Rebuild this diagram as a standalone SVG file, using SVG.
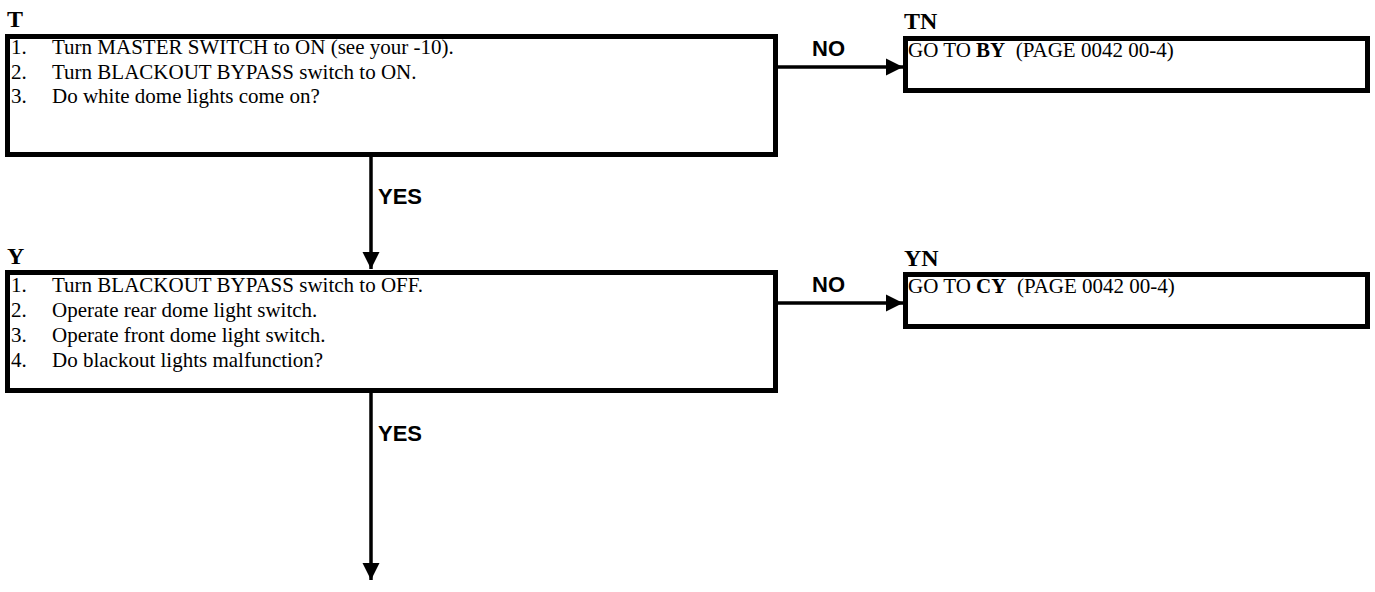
<svg xmlns="http://www.w3.org/2000/svg" width="1375" height="592" viewBox="0 0 1375 592">
<style>
.box{fill:#fff;stroke:#000;stroke-width:5}
.t{font-family:"Liberation Serif","Times New Roman",serif;font-size:21px;fill:#000;white-space:pre}
.lbl{font-family:"Liberation Serif","Times New Roman",serif;font-size:24px;font-weight:bold;fill:#000}
.cl{font-family:"Liberation Sans",Arial,sans-serif;font-size:22px;font-weight:bold;fill:#000}
.ln{stroke:#000;stroke-width:3.5;fill:none}
</style>
<defs>
<marker id="ah" viewBox="0 0 10 10" refX="10" refY="5" markerWidth="5" markerHeight="5" orient="auto" markerUnits="strokeWidth">
<path d="M0,0 L10,5 L0,10 Z" fill="#000"/>
</marker>
</defs>
<g id="connectors">
<line class="ln" x1="371" y1="155" x2="371" y2="269" marker-end="url(#ah)"/>
<text class="cl" x="378" y="204">YES</text>
<line class="ln" x1="778" y1="67" x2="903" y2="67" marker-end="url(#ah)"/>
<text class="cl" x="812" y="56">NO</text>
<line class="ln" x1="371" y1="393" x2="371" y2="580" marker-end="url(#ah)"/>
<text class="cl" x="378" y="441">YES</text>
<line class="ln" x1="778" y1="303" x2="903" y2="303" marker-end="url(#ah)"/>
<text class="cl" x="812" y="292">NO</text>
</g>
<g id="T">
<text class="lbl" x="7" y="27">T</text>
<rect class="box" x="7.5" y="36.5" width="768" height="118"/>
<text class="t" x="11" y="54">1.</text><text class="t" x="52" y="54">Turn MASTER SWITCH to ON (see your -10).</text>
<text class="t" x="11" y="78.5">2.</text><text class="t" x="52" y="78.5">Turn BLACKOUT BYPASS switch to ON.</text>
<text class="t" x="11" y="103">3.</text><text class="t" x="52" y="103">Do white dome lights come on?</text>
</g>
<g id="TN">
<text class="lbl" x="904" y="29">TN</text>
<rect class="box" x="905.5" y="38.5" width="462" height="52"/>
<text class="t" x="908" y="57">GO TO <tspan font-weight="bold">BY</tspan>  (PAGE 0042 00-4)</text>
</g>
<g id="Y">
<text class="lbl" x="7" y="264">Y</text>
<rect class="box" x="7.5" y="272.5" width="768" height="118"/>
<text class="t" x="11" y="292">1.</text><text class="t" x="52" y="292">Turn BLACKOUT BYPASS switch to OFF.</text>
<text class="t" x="11" y="317">2.</text><text class="t" x="52" y="317">Operate rear dome light switch.</text>
<text class="t" x="11" y="342">3.</text><text class="t" x="52" y="342">Operate front dome light switch.</text>
<text class="t" x="11" y="367">4.</text><text class="t" x="52" y="367">Do blackout lights malfunction?</text>
</g>
<g id="YN">
<text class="lbl" x="904" y="266">YN</text>
<rect class="box" x="905.5" y="274.5" width="462" height="52"/>
<text class="t" x="908" y="293">GO TO <tspan font-weight="bold">CY</tspan>  (PAGE 0042 00-4)</text>
</g>
</svg>
